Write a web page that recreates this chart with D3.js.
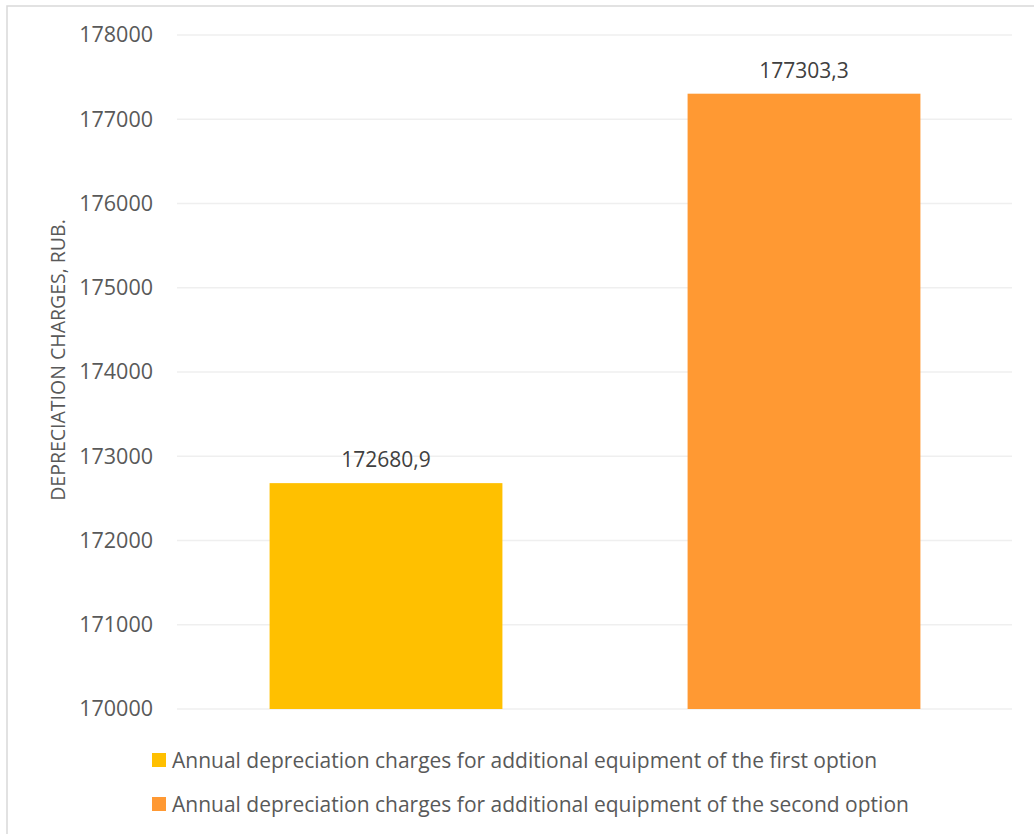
<!DOCTYPE html>
<html><head><meta charset="utf-8">
<script src="https://cdn.jsdelivr.net/npm/d3@7"></script>
<style>body{margin:0;background:#fff;} svg{display:block;} text{font-family:"Open Sans",sans-serif;}</style>
</head><body>
<svg id="c" width="1034" height="834"></svg>
<script>
const categories = ["Annual depreciation charges for additional equipment of the first option",
                    "Annual depreciation charges for additional equipment of the second option"];
const values = [172680.9, 177303.3];
const valueLabels = ["172680,9", "177303,3"];
const colors = ["#FFC000", "#FF9933"];
const yTicks = [170000, 171000, 172000, 173000, 174000, 175000, 176000, 177000, 178000];
const yTitle = "DEPRECIATION CHARGES, RUB.";

const svg = d3.select("#c");
// outer border
svg.append("rect").attr("x",7).attr("y",6).attr("width",1040).attr("height",840)
  .attr("fill","none").attr("stroke","#d9d9d9").attr("stroke-width",1.5);

const x = d3.scaleBand().domain(categories).range([177,1013]).paddingInner(0.443).paddingOuter(0.2215);
const y = d3.scaleLinear().domain([170000,178000]).range([709,35]);

// gridlines
svg.append("g").selectAll("line").data(yTicks).join("line")
  .attr("x1",177).attr("x2",1012).attr("y1",d=>y(d)).attr("y2",d=>y(d))
  .attr("stroke","#efefef").attr("stroke-width",1.5);

// y axis labels
const yAxis = d3.axisLeft(y).tickValues(yTicks).tickSize(0).tickPadding(0).tickFormat(d3.format("d"));
const ga = svg.append("g").attr("transform","translate(153,0)").call(yAxis);
ga.select(".domain").remove();
ga.selectAll("text").attr("fill","#595959").style("font-size","21.5px").style("font-family","'Open Sans',sans-serif");

// bars
svg.append("g").selectAll("rect").data(values).join("rect")
  .attr("x",(d,i)=>x(categories[i])).attr("width",x.bandwidth())
  .attr("y",d=>y(d)).attr("height",d=>y(170000)-y(d))
  .attr("fill",(d,i)=>colors[i]);

// value labels
svg.append("g").selectAll("text").data(values).join("text")
  .attr("x",(d,i)=>x(categories[i])+x.bandwidth()/2).attr("y",d=>y(d)-24)
  .attr("text-anchor","middle").attr("dominant-baseline","central")
  .attr("fill","#404040").style("font-size","21px")
  .text((d,i)=>valueLabels[i]);

// y title
svg.append("text").attr("transform","translate(57,360) rotate(-90)")
  .attr("text-anchor","middle").attr("dominant-baseline","central")
  .attr("fill","#595959").style("font-size","19.5px").text(yTitle);

// legend
const lg = svg.append("g").selectAll("g").data(categories).join("g")
  .attr("transform",(d,i)=>`translate(152,${760+i*44})`);
lg.append("rect").attr("x",0).attr("y",-7).attr("width",14).attr("height",14).attr("fill",(d,i)=>colors[i]);
lg.append("text").attr("x",20).attr("y",0).attr("dominant-baseline","central")
  .attr("fill","#595959").style("font-size","21px").text(d=>d);
</script>
</body></html>
